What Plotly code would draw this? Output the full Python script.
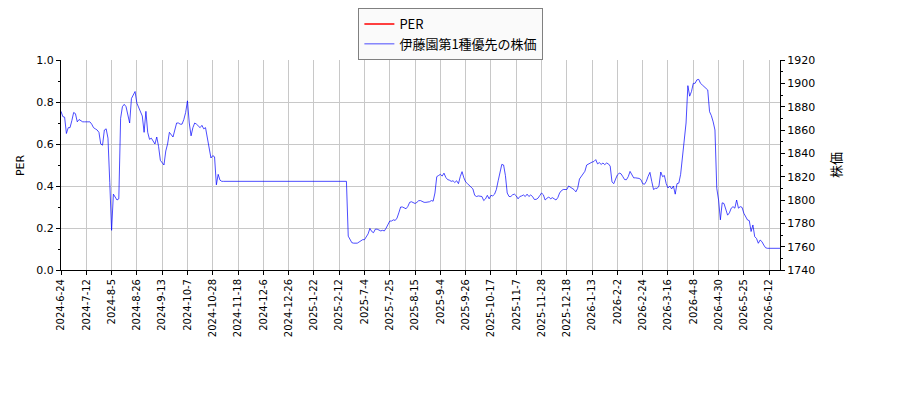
import plotly.graph_objects as go

# x軸の目盛りラベル（14営業日ごと）
TICK_LABELS = [
    "2024-6-24", "2024-7-12", "2024-8-5", "2024-8-26", "2024-9-13", "2024-10-7",
    "2024-10-28", "2024-11-18", "2024-12-6", "2024-12-26", "2025-1-22", "2025-2-12",
    "2025-7-4", "2025-7-25", "2025-8-15", "2025-9-4", "2025-9-26", "2025-10-17",
    "2025-11-7", "2025-11-28", "2025-12-18", "2026-1-13", "2026-2-2", "2026-2-24",
    "2026-3-16", "2026-4-8", "2026-4-30", "2026-5-25", "2026-6-12",
]
TICK_STEP = 14

# PER（値なし）
PER = [None]

# 株価（営業日ごと、1行=14営業日）
PRICE = [
    1876, 1871.5, 1871, 1857, 1862, 1862, 1868, 1875, 1874, 1867, 1869, 1868, 1867, 1867,
    1867, 1866.5, 1867, 1865, 1862, 1861, 1860, 1858, 1848, 1847, 1860, 1861, 1853, 1815,
    1774, 1805, 1803, 1800, 1801, 1870, 1880, 1882, 1880, 1874, 1866, 1887, 1890, 1893,
    1883, 1879, 1875, 1872, 1858, 1876, 1858, 1852, 1853, 1850, 1848, 1854, 1846, 1834,
    1832, 1830, 1842, 1848, 1858, 1856, 1854, 1860, 1866, 1866, 1865, 1865, 1869, 1875,
    1885, 1866, 1855, 1862, 1866, 1865, 1863, 1862, 1864, 1861, 1862, 1853, 1845, 1836,
    1838, 1837, 1813, 1822, 1817, 1816, 1816, 1816, 1816, 1816, 1816, 1816, 1816, 1816,
    1816, 1816, 1816, 1816, 1816, 1816, 1816, 1816, 1816, 1816, 1816, 1816, 1816, 1816,
    1816, 1816, 1816, 1816, 1816, 1816, 1816, 1816, 1816, 1816, 1816, 1816, 1816, 1816,
    1816, 1816, 1816, 1816, 1816, 1816, 1816, 1816, 1816, 1816, 1816, 1816, 1816, 1816,
    1816, 1816, 1816, 1816, 1816, 1816, 1816, 1816, 1816, 1816, 1816, 1816, 1816, 1816,
    1816, 1816, 1816, 1816, 1816, 1769, 1765.7, 1763.4, 1763, 1763, 1763, 1764, 1765, 1766,
    1766, 1768, 1771, 1775.7, 1773, 1772, 1775, 1775, 1774, 1773.5, 1774, 1773.5, 1776, 1779,
    1782, 1782, 1783, 1782.5, 1784.5, 1789, 1794, 1794, 1793.5, 1792.5, 1794.5, 1798, 1798.5, 1798,
    1797, 1798, 1799.4, 1799.5, 1798.5, 1798, 1798, 1798, 1798.5, 1799.5, 1799, 1806, 1820, 1821,
    1822, 1820.5, 1823, 1819.4, 1817.5, 1817, 1816, 1816.5, 1815, 1816.5, 1814, 1820, 1824.3, 1819,
    1815.5, 1814, 1812.5, 1811.5, 1809.5, 1804, 1803, 1803.5, 1803, 1803, 1799.5, 1801, 1804, 1801,
    1804, 1803.5, 1805, 1809, 1816.5, 1823, 1830.5, 1830, 1821, 1806, 1803, 1803, 1804.5, 1805,
    1803.5, 1801, 1803, 1803.5, 1804.3, 1803, 1805, 1803, 1804.3, 1803, 1800.5, 1800.5, 1801.5, 1803.7,
    1806, 1804.5, 1800, 1801.5, 1802.6, 1801, 1802, 1801, 1800, 1802, 1806, 1808, 1809, 1809,
    1809, 1812, 1811, 1810, 1808.9, 1807, 1810, 1818, 1820, 1823, 1824.6, 1830, 1831, 1831.7,
    1832.5, 1833, 1834.6, 1831, 1832, 1830.5, 1831.7, 1830.3, 1831.7, 1831, 1829, 1815.5, 1814, 1818,
    1821.5, 1823, 1822.5, 1820, 1817.5, 1817.4, 1820, 1824.5, 1821.5, 1819, 1819, 1819, 1818.5, 1817.5,
    1814, 1813.5, 1816, 1820.3, 1823.7, 1816, 1809, 1810, 1810, 1812, 1824, 1820, 1821, 1814,
    1810.3, 1812, 1809.5, 1812, 1805, 1814, 1814.5, 1822, 1837, 1850, 1866, 1898, 1889, 1893,
    1900, 1900, 1903, 1903.4, 1900, 1898.6, 1897, 1895, 1894.3, 1875.7, 1872.3, 1867, 1860, 1810,
    1800, 1783, 1797.6, 1797, 1792, 1787, 1789, 1793, 1794.3, 1793, 1800, 1793, 1794.3, 1793.7,
    1788.6, 1785.7, 1782.9, 1782.3, 1773, 1778.6, 1768.6, 1767, 1762.9, 1765.7, 1764.3, 1761.4, 1759.1, 1758.6,
    1758.6, 1758.6, 1758.6, 1758.6, 1758.6, 1758.6, 1758.6,
]

FONT = "DejaVu Sans"
JP_FONT = "Noto Sans CJK JP"
GRID = "#c8c8c8"

x_idx = list(range(len(PRICE)))
tick_vals = [i * TICK_STEP for i in range(len(TICK_LABELS))]

fig = go.Figure()

fig.add_trace(
    go.Scatter(
        x=[0], y=PER, mode="lines", name="PER",
        line=dict(color="red", width=1.5), showlegend=True,
    )
)
fig.add_trace(
    go.Scatter(
        x=x_idx, y=PRICE, mode="lines", name="伊藤園第1種優先の株価",
        line=dict(color="rgba(0,0,255,0.7)", width=1), yaxis="y2",
    )
)

# ページ余白(8px)込みで 900x400 の窓に合わせた余白
fig.update_layout(
    margin=dict(l=53, r=112, t=52, b=122, autoexpand=False),
    paper_bgcolor="white",
    plot_bgcolor="white",
    font=dict(family=FONT, size=11, color="black"),
    showlegend=True,
    legend=dict(
        xref="container", yref="container",
        x=0.501, y=1.0, xanchor="center", yanchor="top",
        bgcolor="#fafafa", bordercolor="#808080", borderwidth=1,
        font=dict(family=JP_FONT + ", " + FONT, size=13),
        itemwidth=30, tracegroupgap=0,
    ),
    xaxis=dict(
        range=[0, len(PRICE) - 1],
        tickmode="array", tickvals=tick_vals, ticktext=TICK_LABELS,
        tickangle=-90, ticks="outside", ticklen=4, tickcolor="black",
        showgrid=True, gridcolor=GRID, gridwidth=1,
        showline=True, linecolor="black", linewidth=1,
        zeroline=False, tickfont=dict(size=10),
    ),
    yaxis=dict(
        range=[0, 1], dtick=0.2, tickformat=".1f",
        ticks="outside", ticklen=4, tickcolor="black",
        minor=dict(dtick=0.1, ticks="outside", ticklen=2, tickcolor="black", showgrid=False),
        showgrid=True, gridcolor=GRID, gridwidth=1,
        showline=True, linecolor="black", linewidth=1, zeroline=False,
    ),
    yaxis2=dict(
        range=[1740, 1920], dtick=20, overlaying="y", side="right",
        ticks="outside", ticklen=4, tickcolor="black",
        minor=dict(dtick=10, ticks="outside", ticklen=2, tickcolor="black", showgrid=False),
        showgrid=False, showline=True, linecolor="black", linewidth=1, zeroline=False,
    ),
    annotations=[
        dict(text="PER", xref="paper", yref="paper", x=-0.057, y=0.5,
             xanchor="center", yanchor="middle", textangle=-90, showarrow=False,
             font=dict(family=FONT, size=11)),
        dict(text="株価", xref="paper", yref="paper", x=1.0765, y=0.5,
             xanchor="center", yanchor="middle", textangle=-90, showarrow=False,
             font=dict(family=JP_FONT, size=13)),
    ],
)

fig.write_html("out.html")
